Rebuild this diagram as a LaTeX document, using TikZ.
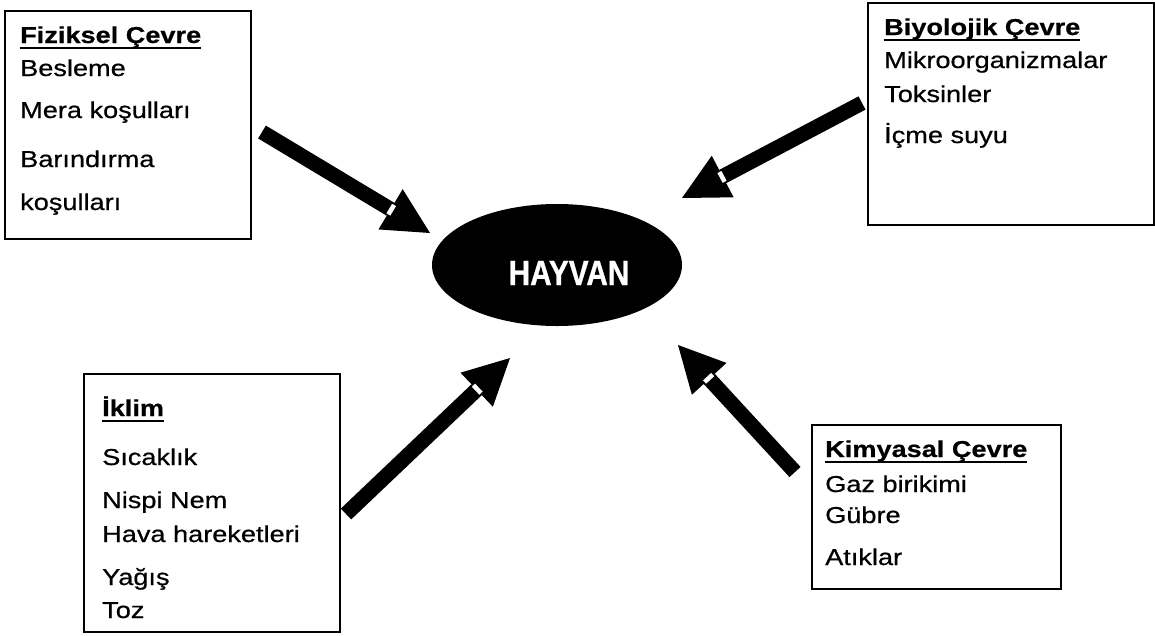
\documentclass[tikz,border=0pt]{standalone}
\usepackage{fontspec}
\usepackage{graphicx}
\setmainfont{Liberation Sans}[FakeStretch=1.18, UprightFeatures={FakeBold=0.6}, BoldFeatures={FakeBold=0.6}]
\newfontfamily\hayvanfont{Liberation Sans}[FakeStretch=0.85, BoldFeatures={FakeBold=0.8}]
\usetikzlibrary{calc,shapes.geometric}

% underlined bold heading
\newsavebox\hdrbox
\newcommand{\hdr}[1]{\sbox\hdrbox{\bfseries #1}\rlap{\rule[-6pt]{\wd\hdrbox}{1.9pt}}\usebox\hdrbox}

% thick block arrow: shaft, triangular head and a small white notch at the joint
\newcommand{\blockarrow}[2]{%
  \coordinate (hb) at ($(#2)!46pt!(#1)$);
  \draw[shaft] (#1) -- (hb);
  \fill[black] (#2) -- ($(hb)!23.5pt!90:(#2)$) -- ($(hb)!23.5pt!-90:(#2)$) -- cycle;
  \draw[notch] ($(hb)!-1.5pt!(#2)$) -- ($(hb)!3pt!(#2)$);
}

\tikzset{
  panel/.style={draw=black, line width=1.6pt, fill=white, anchor=north west, inner sep=0pt},
  item/.style={anchor=base west, inner sep=0pt, font=\fontsize{23}{27}\selectfont},
  shaft/.style={line width=15pt, draw=black, line cap=butt},
  notch/.style={line width=11pt, draw=white, line cap=butt},
  animal/.style={ellipse, fill=black, inner sep=0pt, minimum width=250pt, minimum height=122pt},
}

\begin{document}
\begin{tikzpicture}[x=1pt,y=-1pt]
\useasboundingbox[fill=white] (0,0) rectangle (1155,635);

% central ellipse
\node[animal] (hayvan) at (557,265) {};
\node[anchor=base, inner sep=0pt, text=white, font=\hayvanfont\bfseries\fontsize{35}{40}\selectfont] (hayvanlbl) at (569,285) {HAYVAN};

% panels
\node[panel, minimum width=246pt, minimum height=228pt] (fiz) at (4,10) {};
\node[panel, minimum width=286pt, minimum height=222pt] (bio) at (867,2) {};
\node[panel, minimum width=256pt, minimum height=258pt] (ikl) at (83,373) {};
\node[panel, minimum width=249pt, minimum height=164pt] (kim) at (811,424) {};

% Fiziksel Çevre
\node[item] (f0) at (20,43) {\hdr{Fiziksel Çevre}};
\node[item] (f1) at (20,76) {Besleme};
\node[item] (f2) at (20,118) {Mera koşulları};
\node[item] (f3) at (20,167) {Barındırma};
\node[item] (f4) at (20,210) {koşulları};

% Biyolojik Çevre
\node[item] (b0) at (884,35) {\hdr{Biyolojik Çevre}};
\node[item] (b1) at (884,68) {Mikroorganizmalar};
\node[item] (b2) at (884,102) {Toksinler};
\node[item] (b3) at (884,143) {İçme suyu};

% İklim
\node[item] (i0) at (102,416) {\hdr{İklim}};
\node[item] (i1) at (102,465) {Sıcaklık};
\node[item] (i2) at (102,508) {Nispi Nem};
\node[item] (i3) at (102,542) {Hava hareketleri};
\node[item] (i4) at (102,585) {Yağış};
\node[item] (i5) at (102,618) {Toz};

% Kimyasal Çevre
\node[item] (k0) at (825,457) {\hdr{Kimyasal Çevre}};
\node[item] (k1) at (825,492) {Gaz birikimi};
\node[item] (k2) at (825,523) {Gübre};
\node[item] (k3) at (825,565) {Atıklar};

% arrow ends
\coordinate (a1s) at (262,132); \coordinate (a1e) at (430,233);
\coordinate (a2s) at (862,103); \coordinate (a2e) at (682,198);
\coordinate (a3s) at (346,514); \coordinate (a3e) at (510,358);
\coordinate (a4s) at (795,472); \coordinate (a4e) at (678,345);

\blockarrow{a1s}{a1e}
\blockarrow{a2s}{a2e}
\blockarrow{a3s}{a3e}
\blockarrow{a4s}{a4e}
\end{tikzpicture}
\end{document}
